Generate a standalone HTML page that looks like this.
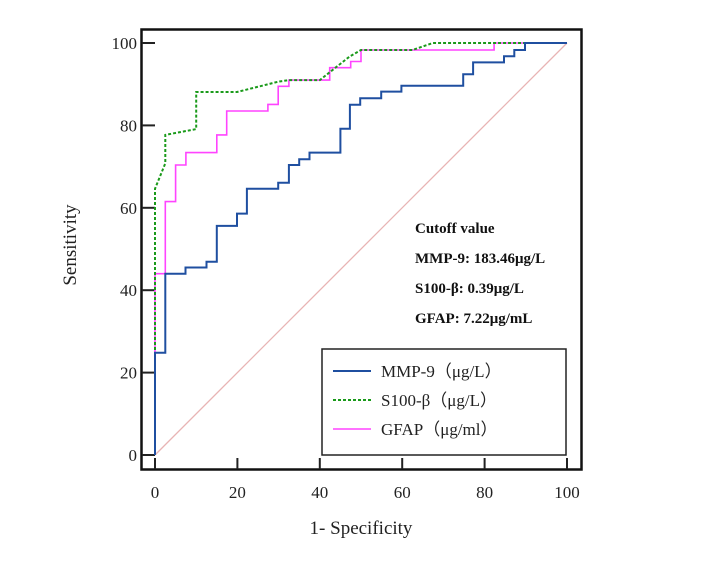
<!DOCTYPE html>
<html><head><meta charset="utf-8"><style>
body{margin:0;background:#fff;}
svg{display:block;font-family:"Liberation Serif",serif;}
</style></head><body>
<svg width="717" height="579" viewBox="0 0 717 579">
<g id="plot"></g>
</svg>
<script>
const ticks=[0,20,40,60,80,100];
const mmpX=[0,0,2.5,2.5,7.4,7.4,12.5,12.5,15,15,19.9,19.9,22.3,22.3,29.9,29.9,32.5,32.5,35,35,37.5,37.5,45,45,47.3,47.3,49.8,49.8,54.9,54.9,59.8,59.8,74.8,74.8,77.2,77.2,84.7,84.7,87.2,87.2,89.8,89.8,100];
const mmpY=[0,24.8,24.8,44,44,45.5,45.5,46.9,46.9,55.6,55.6,58.6,58.6,64.6,64.6,66.1,66.1,70.4,70.4,71.8,71.8,73.4,73.4,79.2,79.2,85,85,86.6,86.6,88.2,88.2,89.6,89.6,92.4,92.4,95.3,95.3,96.8,96.8,98.3,98.3,100,100];
const s100X=[0,0,2.5,2.5,10,10,19.9,29.9,32.5,40,47.2,50,62.5,67.4,100];
const s100Y=[0,64.6,70.8,77.7,79.1,88.1,88.1,90.6,91,91,96.7,98.3,98.3,100,100];
const gfapX=[0,0,2.5,2.5,5,5,7.5,7.5,15,15,17.4,17.4,27.4,27.4,29.9,29.9,32.5,32.5,42.4,42.4,47.5,47.5,50,50,82.3,82.3,100];
const gfapY=[0,44,44,61.5,61.5,70.4,70.4,73.4,73.4,77.7,77.7,83.5,83.5,85.1,85.1,89.5,89.5,91,91,94,94,95.5,95.5,98.3,98.3,100,100];
const sx=v=>155+v*4.12, sy=v=>455-v*4.12;
const NS="http://www.w3.org/2000/svg";
const g=document.getElementById('plot');
function mk(t,a,txt){const e=document.createElementNS(NS,t);for(const k in a)e.setAttribute(k,a[k]);if(txt!=null)e.textContent=txt;g.appendChild(e);return e;}
let e;
e=mk('rect',{x:141.5,y:29.5,width:440,height:440,fill:'none',stroke:'#111','stroke-width':2.5});


e=mk('line',{x1:sx(0),y1:sy(0),x2:sx(100),y2:sy(100),stroke:'#e8b4b4','stroke-width':1.3});


ticks.forEach(t=>{
 e=mk('line',{x1:142,x2:sx(0),y1:sy(t),y2:sy(t),stroke:'#222','stroke-width':2});
 
 
 e=mk('text',{x:137,y:sy(t)+6,'text-anchor':'end','font-size':17,fill:'#222'},t);
 
 
 e=mk('line',{x1:sx(t),x2:sx(t),y1:469,y2:458,stroke:'#222','stroke-width':2});
 
 
 e=mk('text',{x:sx(t),y:498,'text-anchor':'middle','font-size':17,fill:'#222'},t);
 
 
});
function path(X,Y){return X.map((x,i)=>(i?'L':'M')+sx(x).toFixed(1)+','+sy(Y[i]).toFixed(1)).join('');}
e=mk('path',{d:path(gfapX,gfapY),fill:'none',stroke:'#ff44ff','stroke-width':1.6});


e=mk('path',{d:path(s100X,s100Y),fill:'none',stroke:'#1a9a1a','stroke-width':2,'stroke-dasharray':'3,2'});


e=mk('path',{d:path(mmpX,mmpY),fill:'none',stroke:'#1f4fa0','stroke-width':2});


e=mk('text',{x:361,y:534,'text-anchor':'middle','font-size':19,fill:'#222'},'1- Specificity');


e=mk('text',{x:0,y:0,transform:'translate(76,245) rotate(-90)','text-anchor':'middle','font-size':19,fill:'#222'},'Sensitivity');


['Cutoff value','MMP-9: 183.46μg/L','S100-β: 0.39μg/L','GFAP: 7.22μg/mL'].forEach((s,i)=>{
 e=mk('text',{x:415,y:233+i*30,'font-size':15,'font-weight':'bold',fill:'#111'},s);
 
 
});
e=mk('rect',{x:322,y:349,width:244,height:106,fill:'#fff',stroke:'#222','stroke-width':1.5});


[['MMP-9（μg/L）','#1f4fa0',null,2],['S100-β（μg/L）','#1a9a1a','3,2',2],['GFAP（μg/ml）','#ff44ff',null,1.6]].forEach((l,i)=>{
 const y=371+i*29;
 e=mk('line',{x1:333,x2:371,y1:y,y2:y,stroke:l[1],'stroke-width':l[3]});
 if(l[2])e.setAttribute('stroke-dasharray',l[2]);
 
 
 e=mk('text',{x:381,y:y+6,'font-size':17,fill:'#222'},l[0]);
 
 
});
</script>
</body></html>
